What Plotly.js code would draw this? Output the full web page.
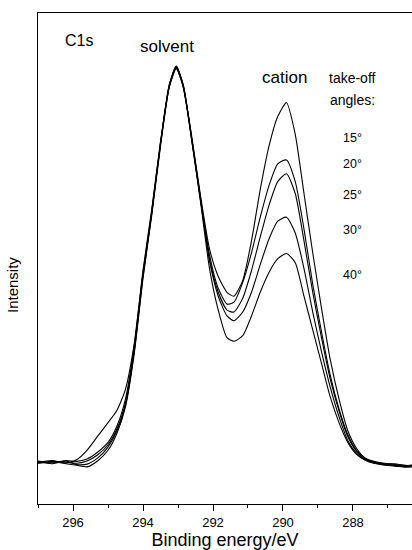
<!DOCTYPE html>
<html>
<head>
<meta charset="utf-8">
<script src="https://cdn.plot.ly/plotly-3.0.1.min.js"></script>
<style>html,body{margin:0;padding:0;background:#fff;}#chart{width:412px;height:550px;}</style>
</head>
<body>
<div id="chart"></div>
<script>
// Binding energy grid (eV)
var bindingEnergy = [297.0, 296.6, 296.2, 295.9, 295.6, 295.3, 295.0, 294.75, 294.5, 294.25, 294.0, 293.75, 293.5, 293.25, 293.05, 292.85, 292.6, 292.35, 292.1, 291.85, 291.6, 291.4, 291.15, 290.9, 290.65, 290.4, 290.15, 289.9, 289.65, 289.4, 289.15, 288.9, 288.65, 288.4, 288.15, 287.9, 287.65, 287.4, 287.1, 286.8, 286.5, 286.3];

// Intensity (arb. units) for each take-off angle
var angle15 = [0.0, 0.4, -0.2, 0.6, 3.0, 6.5, 10.0, 13.0, 18.5, 30.0, 48.5, 64.0, 81.0, 95.0, 99.6, 95.0, 82.0, 67.0, 54.0, 47.0, 43.0, 42.0, 46.0, 56.0, 69.0, 80.0, 87.5, 91.0, 83.0, 68.0, 53.0, 39.0, 26.0, 16.0, 8.0, 3.5, 1.0, 0.0, -0.5, -0.8, -1.0, -0.8];
var angle20 = [0.3, -0.2, 0.4, 0.2, 0.8, 2.5, 5.0, 9.0, 16.0, 29.5, 48.0, 63.5, 81.0, 95.5, 100.2, 95.5, 81.5, 66.5, 52.5, 44.0, 40.0, 40.5, 45.5, 53.0, 62.0, 70.0, 75.5, 76.5, 71.0, 59.0, 45.0, 33.0, 22.0, 13.5, 7.0, 3.0, 1.0, 0.2, -0.3, -0.6, -0.8, -1.0];
var angle25 = [-0.2, 0.2, 0.0, -0.3, 0.3, 1.8, 4.4, 8.3, 15.0, 28.5, 47.5, 63.0, 80.5, 95.0, 99.8, 95.0, 81.5, 66.0, 51.5, 43.0, 38.5, 38.0, 41.5, 48.5, 57.0, 65.0, 71.0, 73.0, 68.0, 56.0, 43.0, 31.5, 21.0, 13.0, 6.5, 2.8, 0.8, 0.0, -0.5, -0.4, -0.9, -0.7];
var angle30 = [0.1, -0.4, 0.3, -0.6, -0.5, 1.0, 3.8, 7.8, 14.5, 28.0, 47.0, 63.0, 80.5, 95.5, 100.0, 95.5, 81.0, 66.0, 51.0, 42.0, 37.0, 35.8, 38.0, 43.0, 50.0, 56.5, 61.0, 62.0, 58.0, 49.0, 38.0, 28.0, 19.0, 11.5, 5.5, 2.3, 0.6, -0.2, -0.6, -0.9, -1.1, -0.9];
var angle40 = [-0.3, 0.1, -0.4, -0.8, -1.2, 0.3, 3.0, 7.2, 14.0, 27.5, 46.5, 62.5, 80.0, 95.0, 100.3, 95.0, 81.0, 65.5, 49.0, 38.5, 31.5, 30.6, 32.0, 37.0, 43.0, 48.0, 51.5, 52.8, 50.5, 42.0, 33.5, 25.0, 16.5, 10.0, 5.0, 2.0, 0.5, -0.3, -0.8, -1.0, -1.3, -1.2];

var seriesNames = ["15°", "20°", "25°", "30°", "40°"];
var seriesValues = [angle15, angle20, angle25, angle30, angle40];

var xTickVals = [296, 294, 292, 290, 288];
var xTickText = ["296", "294", "292", "290", "288"];

var traces = seriesValues.map(function (vals, i) {
  return {
    x: bindingEnergy,
    y: vals,
    name: seriesNames[i],
    type: "scatter",
    mode: "lines",
    line: {color: "#000", width: 1.1, shape: "spline", smoothing: 0.6},
    hoverinfo: "skip"
  };
});

var fontFam = "Liberation Sans, Arial, Helvetica, sans-serif";

function label(text, x, y, size, angle) {
  return {text: text, xref: "paper", yref: "paper", x: x, y: y, xanchor: "center", yanchor: "middle",
          textangle: angle || 0, showarrow: false, font: {size: size, family: fontFam, color: "#000"}};
}

var layout = {
  width: 412,
  height: 550,
  margin: {l: 38, r: 0, t: 13, b: 46, pad: 0},
  paper_bgcolor: "#fff",
  plot_bgcolor: "#fff",
  showlegend: false,
  font: {family: fontFam, color: "#000"},
  xaxis: {
    range: [297.0, 286.314],
    tickvals: xTickVals,
    ticktext: xTickText,
    ticks: "outside",
    ticklen: 6,
    tickwidth: 1,
    tickcolor: "#000",
    minor: {dtick: 1, tick0: 0, ticks: "outside", ticklen: 3, tickwidth: 1, tickcolor: "#000", showgrid: false},
    showline: true,
    linecolor: "#000",
    linewidth: 1.2,
    mirror: true,
    showgrid: false,
    zeroline: false,
    tickfont: {size: 13, family: fontFam, color: "#000"},
    title: {text: "Binding energy/eV", font: {size: 18, family: fontFam, color: "#000"}, standoff: 5}
  },
  yaxis: {
    range: [-10.6, 113.7],
    showticklabels: false,
    ticks: "",
    showline: true,
    linecolor: "#000",
    linewidth: 1.2,
    showgrid: false,
    zeroline: false
  },
  annotations: [
    label("Intensity", -0.0695, 0.446, 15, -90),
    label("C1s", 0.1096, 0.945, 16),
    label("solvent", 0.345, 0.931, 17),
    label("cation", 0.658, 0.868, 17),
    label("take-off", 0.840, 0.868, 14),
    label("angles:", 0.840, 0.823, 14),
    label("15°", 0.840, 0.745, 12.5),
    label("20°", 0.840, 0.692, 12.5),
    label("25°", 0.840, 0.629, 12.5),
    label("30°", 0.840, 0.558, 12.5),
    label("40°", 0.840, 0.466, 12.5)
  ]
};

Plotly.newPlot("chart", traces, layout, {staticPlot: true, displayModeBar: false});
</script>
</body>
</html>
